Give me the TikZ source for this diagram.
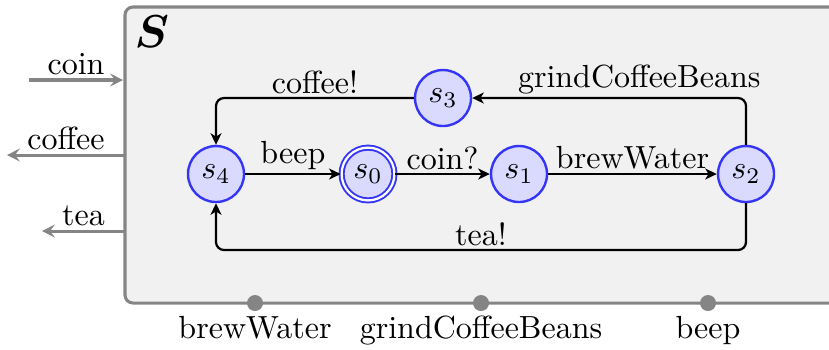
\documentclass[tikz,border=0pt]{standalone}
\usepackage{bm}
\usetikzlibrary{arrows.meta}
\definecolor{boxfill}{HTML}{F1F1F1}
\definecolor{boxline}{HTML}{858585}
\definecolor{stfill}{HTML}{DADAFF}
\definecolor{stline}{HTML}{3535F5}
\begin{document}
\begin{tikzpicture}[x=0.3125pt,y=-0.3125pt,
  statenode/.style={circle,draw=stline,fill=stfill,line width=0.75pt,minimum size=17.5pt,inner sep=0pt},
  acceptnode/.style={statenode,double=white,double distance=0.7pt,minimum size=16.5pt,line width=0.6pt},
  trans/.style={-{Stealth[length=3.6pt,width=3.4pt,inset=1pt]},line width=0.7pt,rounded corners=2.5pt},
  port/.style={-{Stealth[length=4pt,width=4pt,inset=1.5pt]},draw=boxline,line width=0.95pt},
  portdot/.style={circle,fill=boxline,inner sep=0pt,minimum size=5pt},
  lbl/.style={inner sep=1pt},
  titlefont/.style={font=\fontsize{14}{16}\selectfont}]
\useasboundingbox (0,0) rectangle (829,349);
% component box
\draw[draw=boxline,fill=boxfill,line width=0.95pt,rounded corners=2.5pt] (125,7) rectangle (860,303);
\node[anchor=north west,inner sep=0pt,titlefont] (title) at (134,15) {$\bm{S}$};
% input/output ports
\coordinate (coinA) at (29,80);
\coordinate (coinB) at (123,80);
\coordinate (coffeeA) at (125,155);
\coordinate (coffeeB) at (7,155);
\coordinate (teaA) at (125,231);
\coordinate (teaB) at (42,231);
\draw[port] (coinA) -- node[above,lbl] (lcoin) {coin} (coinB);
\draw[port] (coffeeA) -- node[above,lbl] (lcoffee) {coffee} (coffeeB);
\draw[port] (teaA) -- node[above,lbl] (ltea) {tea} (teaB);
% states
\node[statenode] (s4) at (216,174) {$s_4$};
\node[acceptnode] (s0) at (368,174) {$s_0$};
\node[statenode] (s1) at (519,174) {$s_1$};
\node[statenode] (s2) at (746,174) {$s_2$};
\node[statenode] (s3) at (443,98) {$s_3$};
% transitions
\draw[trans] (s4) -- node[above,lbl] (lbeep) {beep} (s0);
\draw[trans] (s0) -- node[above,lbl] (lcoinq) {coin?} (s1);
\draw[trans] (s1) -- node[above,lbl] (lbrew) {brewWater} (s2);
\draw[trans] (s3.west) -- node[above,lbl] (lcoffeex) {coffee!} (s3.west -| s4) -- (s4.north);
\draw[trans] (s2.north) -- (s2.north |- s3) -- node[above,lbl,pos=0.39] (lgrind) {grindCoffeeBeans} (s3.east);
\coordinate (teacorner) at (746,250);
\draw[trans] (s2.south) -- (teacorner) -- node[above,lbl] (lteax) {tea!} (teacorner -| s4) -- (s4.south);
% bottom ports
\node[portdot] (d1) at (255,303) {};
\node[portdot] (d2) at (481,303) {};
\node[portdot] (d3) at (708,303) {};
\node[anchor=base] (b1) at (255,338) {brewWater};
\node[anchor=base] (b2) at (481,338) {grindCoffeeBeans};
\node[anchor=base] (b3) at (708,338) {beep};
\end{tikzpicture}
\end{document}
